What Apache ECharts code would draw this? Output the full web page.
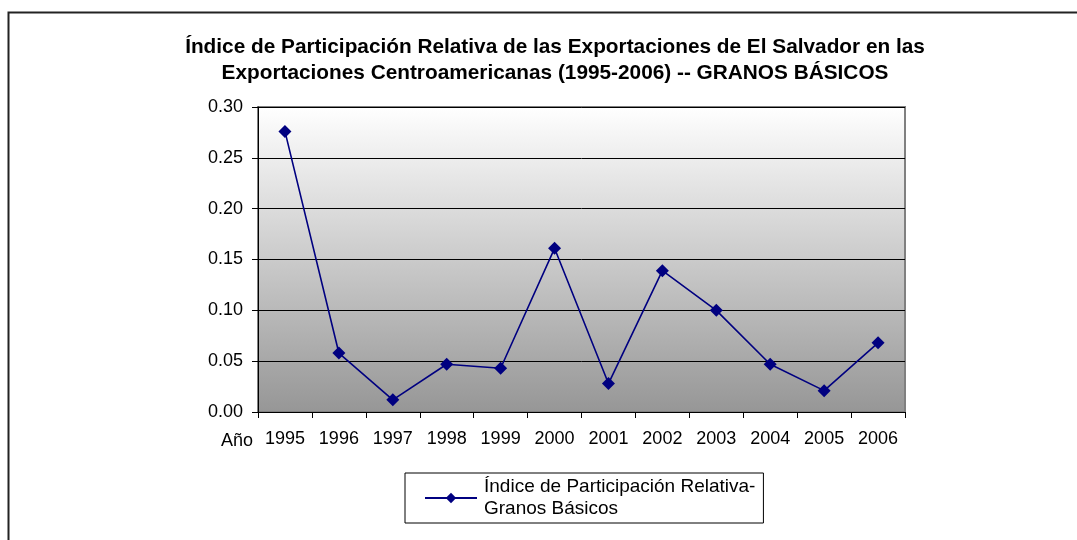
<!DOCTYPE html>
<html>
<head>
<meta charset="utf-8">
<script src="https://cdn.jsdelivr.net/npm/echarts@6/dist/echarts.min.js"></script>
<style>
  html, body { margin: 0; padding: 0; background: #fff; }
  #chart { width: 1077px; height: 540px; }
</style>
</head>
<body>
<div id="chart"></div>
<script>
  // datos
  var years = ['1995','1996','1997','1998','1999','2000','2001','2002','2003','2004','2005','2006'];
  var indice = [0.276, 0.058, 0.012, 0.047, 0.043, 0.161, 0.028, 0.139, 0.100, 0.047, 0.021, 0.068];
  var yTicks = [0, 0.05, 0.10, 0.15, 0.20, 0.25, 0.30];
  var serieName = 'Índice de Participación Relativa-\nGranos Básicos';

  var font = 'Liberation Sans, Arial, sans-serif';
  var myChart = echarts.init(document.getElementById('chart'));
  var option = {
    animation: false,
    textStyle: { fontFamily: font },
    title: {
      text: 'Índice de Participación Relativa de las Exportaciones de El Salvador en las\nExportaciones Centroamericanas (1995-2006) -- GRANOS BÁSICOS',
      left: 550,
      textAlign: 'center',
      top: 29,
      textStyle: { fontFamily: font, fontSize: 20.8, fontWeight: 'bold', color: '#000', lineHeight: 26 }
    },
    grid: {
      left: 258,
      right: 172,
      top: 107,
      bottom: 128,
      show: true,
      borderColor: '#808080',
      borderWidth: 2,
      backgroundColor: new echarts.graphic.LinearGradient(0, 0, 0, 1, [
        { offset: 0, color: '#ffffff' },
        { offset: 1, color: '#969696' }
      ])
    },
    legend: {
      data: [serieName],
      left: 405,
      top: 473,
      width: 360,
      orient: 'vertical',
      itemWidth: 52,
      itemHeight: 13,
      itemGap: 0,
      padding: [3, 8, 3, 19],
      borderColor: '#000',
      borderWidth: 1,
      textStyle: { fontFamily: font, fontSize: 19, color: '#000', lineHeight: 22, padding: [0, 0, 0, 2] }
    },
    xAxis: {
      type: 'category',
      data: years,
      boundaryGap: true,
      axisLine: { lineStyle: { color: '#000', width: 1 } },
      axisTick: { show: true, inside: false, length: 6, alignWithLabel: false, lineStyle: { color: '#000' } },
      axisLabel: { fontFamily: font, fontSize: 18, color: '#000', margin: 18 }
    },
    yAxis: {
      type: 'value',
      min: 0,
      max: 0.30,
      interval: 0.05,
      axisLine: { show: true, lineStyle: { color: '#000', width: 1 } },
      axisTick: { show: true, length: 6, lineStyle: { color: '#000' } },
      axisLabel: {
        fontFamily: font, fontSize: 18, color: '#000', margin: 15,
        formatter: function (v) { return v.toFixed(2); }
      },
      splitLine: { show: true, lineStyle: { color: '#000', width: 1 } }
    },
    graphic: [
      {
        type: 'rect',
        shape: { x: 8.5, y: 12.5, width: 1200, height: 700 },
        style: { fill: 'none', stroke: '#222', lineWidth: 2 },
        silent: true
      },
      {
        type: 'text',
        left: 221,
        top: 432,
        style: { text: 'Año', fontFamily: font, fontSize: 18, fill: '#000' }
      }
    ],
    series: [
      {
        name: serieName,
        type: 'line',
        data: indice,
        symbol: 'diamond',
        symbolSize: 13,
        color: '#000080',
        lineStyle: { color: '#000080', width: 1.6 },
        itemStyle: { color: '#000080' }
      }
    ]
  };
  myChart.setOption(option);
</script>
</body>
</html>
